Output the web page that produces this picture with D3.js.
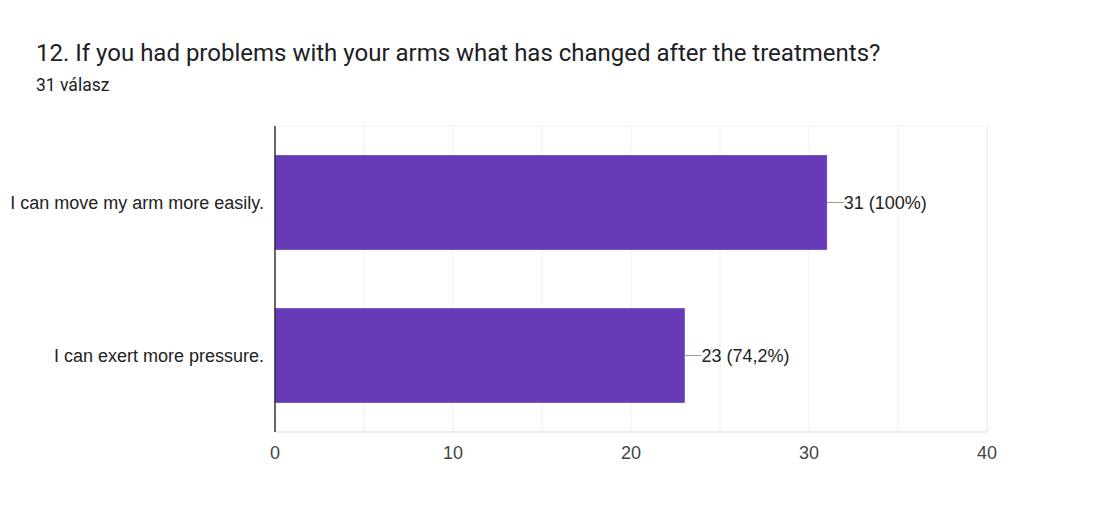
<!DOCTYPE html>
<html><head><meta charset="utf-8">
<script src="https://cdn.jsdelivr.net/npm/d3@7"></script>
<style>body{margin:0;background:#fff;}</style>
</head><body>
<svg id="c" width="1099" height="522"></svg>
<script>
const categories = ["I can move my arm more easily.", "I can exert more pressure."];
const values = [31, 23];
const labels = ["31 (100%)", "23 (74,2%)"];
const tickValues = [0, 10, 20, 30, 40];
const gridValues = [5, 10, 15, 20, 25, 30, 35, 40];

const svg = d3.select("#c");
const W = 1099, H = 522;
svg.append("rect").attr("width", W).attr("height", H).attr("fill", "#fff");

svg.append("text").attr("x", 36).attr("y", 61)
  .attr("font-family", "Roboto").attr("font-size", 24).attr("fill", "#202124")
  .text("12. If you had problems with your arms what has changed after the treatments?");
svg.append("text").attr("x", 36).attr("y", 91)
  .attr("font-family", "Roboto").attr("font-size", 17.5).attr("fill", "#202124")
  .text("31 válasz");

const pLeft = 275, pRight = 987, pTop = 126, pBottom = 432;
const x = d3.scaleLinear().domain([0, 40]).range([pLeft, pRight]);
const y = d3.scaleBand().domain(categories).range([pTop, pBottom]).paddingInner(0.385).paddingOuter(0.1925);

// gridlines
svg.append("g").selectAll("line").data(gridValues).join("line")
  .attr("x1", d => x(d)).attr("x2", d => x(d)).attr("y1", pTop).attr("y2", pBottom)
  .attr("stroke", d => d === 40 ? "#e6e6e6" : "#efefef").attr("stroke-width", 1);
svg.append("line").attr("x1", pLeft).attr("x2", pRight).attr("y1", pBottom).attr("y2", pBottom)
  .attr("stroke", "#e6e6e6").attr("stroke-width", 1.5);
svg.append("line").attr("x1", pLeft).attr("x2", pRight).attr("y1", pTop).attr("y2", pTop)
  .attr("stroke", "#f3f3f3").attr("stroke-width", 1);

// bars
svg.append("g").selectAll("rect").data(values).join("rect")
  .attr("x", x(0)).attr("y", (d, i) => y(categories[i]))
  .attr("width", d => x(d) - x(0)).attr("height", y.bandwidth())
  .attr("fill", "#673ab7").attr("stroke", "#5e35b1").attr("stroke-width", 0.6);

// axis line
svg.append("line").attr("x1", pLeft).attr("x2", pLeft).attr("y1", pTop).attr("y2", pBottom)
  .attr("stroke", "#333").attr("stroke-width", 1.5);

// leader lines + value labels
const lg = svg.append("g");
values.forEach((v, i) => {
  const cy = y(categories[i]) + y.bandwidth() / 2;
  lg.append("line").attr("x1", x(v)).attr("x2", x(v) + 17).attr("y1", cy).attr("y2", cy)
    .attr("stroke", "#999").attr("stroke-width", 1);
  lg.append("text").attr("x", x(v) + 17).attr("y", cy + 6.5)
    .attr("font-family", "Arial, Liberation Sans").attr("font-size", 18).attr("fill", "#222")
    .text(labels[i]);
});

// category labels
svg.append("g").selectAll("text").data(categories).join("text")
  .attr("x", 264).attr("y", d => y(d) + y.bandwidth() / 2 + 6.5)
  .attr("text-anchor", "end").attr("font-family", "Arial, Liberation Sans").attr("font-size", 18)
  .attr("fill", "#222").text(d => d);

// x ticks
svg.append("g").selectAll("text").data(tickValues).join("text")
  .attr("x", d => x(d)).attr("y", 459).attr("text-anchor", "middle")
  .attr("font-family", "Arial, Liberation Sans").attr("font-size", 18).attr("fill", "#444")
  .text(d => d);
</script>
</body></html>
